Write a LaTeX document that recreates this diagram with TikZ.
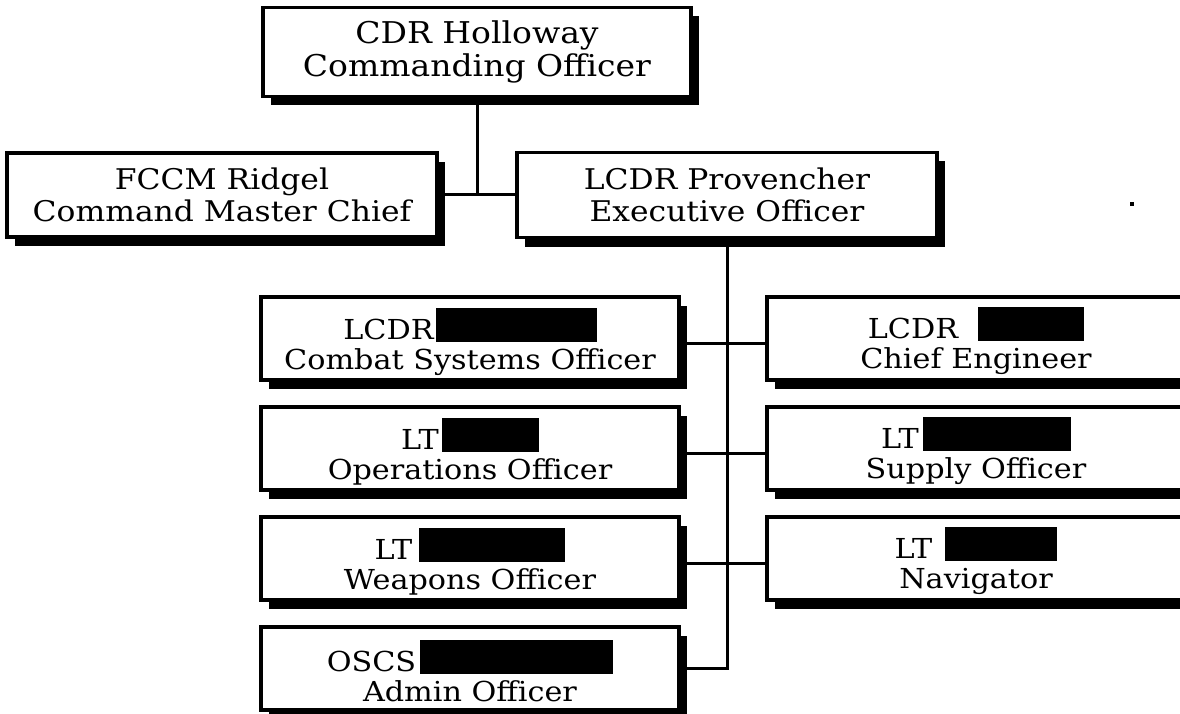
\documentclass[tikz,border=0pt]{standalone}
\usepackage{fontspec}
\setmainfont{DejaVu Serif}[FakeStretch=1.1]
\usetikzlibrary{shadows}
\newcommand{\redact}[2]{\hspace{#1}\raisebox{-2.5pt}[0pt][0pt]{\rule{#2}{34pt}}}
\tikzset{
  orgbox/.style={draw=black, line width=3.5pt, fill=white, rectangle, inner sep=0pt,
    align=center, font=\fontsize{28.5}{32}\selectfont,
    drop shadow={shadow xshift=8pt, shadow yshift=-9pt, fill=black, opacity=1}},
  colbox/.style={orgbox, minimum width=418pt, minimum height=83pt},
  coltext/.style={inner sep=0pt, align=center, font=\fontsize{27.5}{30}\selectfont},
  conn/.style={line width=3pt}
}
\begin{document}
\begin{tikzpicture}[x=1pt,y=-1pt]
\useasboundingbox (0,0) rectangle (1180,714);
\fill[white] (0,0) rectangle (1180,714);
% top
\node[orgbox, minimum width=428pt, minimum height=89pt, font=\fontsize{30}{33}\selectfont] (co) at (477,52) {CDR Holloway\\Commanding Officer};
\node[orgbox, minimum width=430pt, minimum height=84pt] (fcm) at (222,195) {FCCM Ridgel\\Command Master Chief};
\node[orgbox, minimum width=420pt, minimum height=85pt] (xo) at (727,195) {LCDR Provencher\\Executive Officer};
% left column
\node[colbox] (cso) at (470,338.5) {};
\node[colbox] (ops) at (470,448.5) {};
\node[colbox] (weps) at (470,558.5) {};
\node[colbox] (adm) at (470,668.5) {};
% right column
\node[colbox] (eng) at (976,338.5) {};
\node[colbox] (sup) at (976,448.5) {};
\node[colbox] (nav) at (976,558.5) {};
% texts of the column boxes
\node[coltext] (cso-t) at ([yshift=-9pt]cso.center) {LCDR\redact{2pt}{161pt}\\Combat Systems Officer};
\node[coltext] (ops-t) at ([yshift=-9pt]ops.center) {LT\redact{3pt}{97pt}\\Operations Officer};
\node[coltext] (weps-t) at ([yshift=-9pt]weps.center) {LT\redact{7pt}{146pt}\\Weapons Officer};
\node[coltext] (adm-t) at ([yshift=-8pt]adm.center) {OSCS\redact{4pt}{193pt}\\Admin Officer};
\node[coltext] (eng-t) at ([yshift=-8pt]eng.center) {LCDR\redact{20pt}{106pt}\\Chief Engineer};
\node[coltext] (sup-t) at ([yshift=-8pt]sup.center) {LT\redact{4pt}{148pt}\\Supply Officer};
\node[coltext] (nav-t) at ([yshift=-8pt]nav.center) {LT\redact{13pt}{112pt}\\Navigator};
% connectors
\draw[conn] (co.south) -- (co.south |- fcm.east);
\draw[conn] (fcm.east) -- (xo.west);
\draw[conn] (xo.south) -- (xo.south |- adm.east) -- (adm.east);
\draw[conn] ([yshift=-4.5pt]cso.east) -- ([yshift=-4.5pt]eng.west);
\draw[conn] ([yshift=-4.5pt]ops.east) -- ([yshift=-4.5pt]sup.west);
\draw[conn] ([yshift=-4.5pt]weps.east) -- ([yshift=-4.5pt]nav.west);
% stray dot
\coordinate (dot) at (1132,204);
\fill ([shift={(-2pt,-2pt)}]dot) rectangle ([shift={(2pt,2pt)}]dot);
\end{tikzpicture}
\end{document}
